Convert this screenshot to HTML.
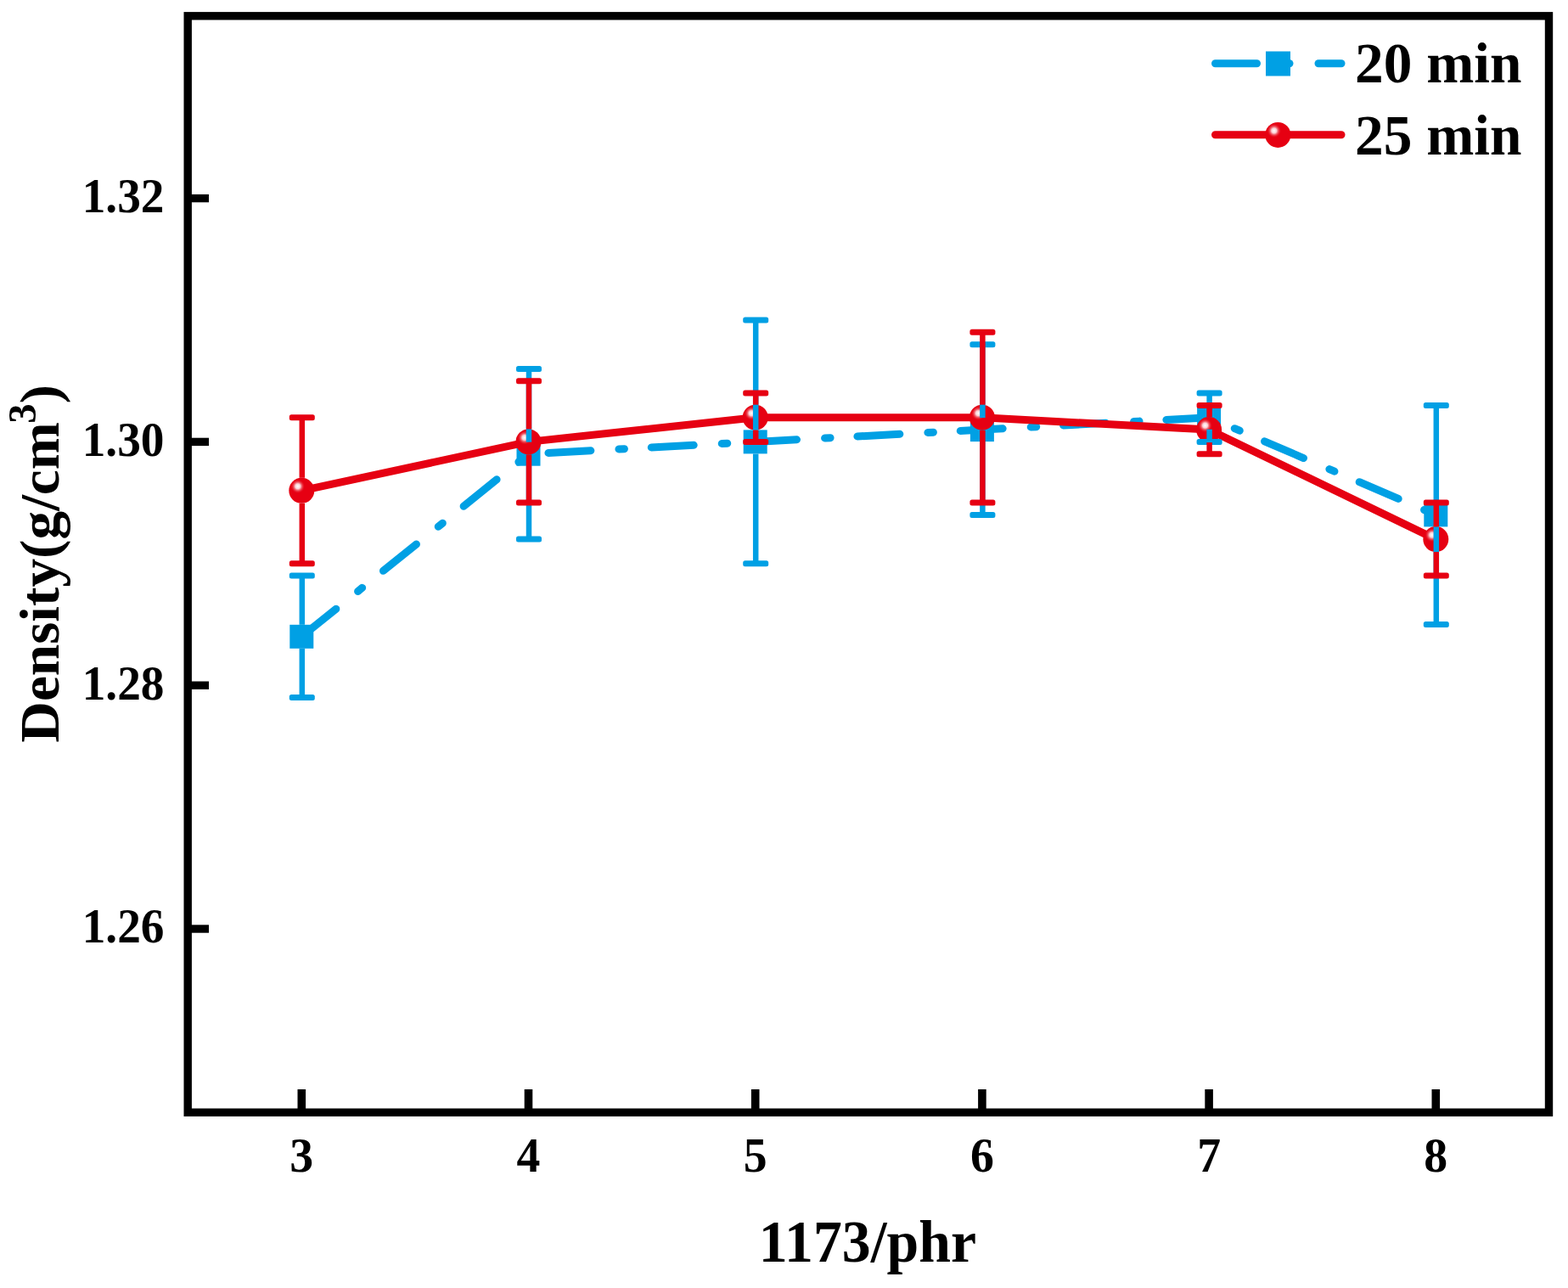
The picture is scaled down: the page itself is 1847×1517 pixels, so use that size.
<!DOCTYPE html><html><head><meta charset="utf-8"><style>html,body{margin:0;padding:0;background:#fff;}svg{display:block;}text{font-family:"Liberation Serif","Times New Roman",serif;font-weight:bold;fill:#000;}</style></head><body>
<svg width="1847" height="1517" viewBox="0 0 1847 1517">
<defs><radialGradient id="hl" cx="0.5" cy="0.5" r="0.5"><stop offset="0" stop-color="#fff"/><stop offset="0.35" stop-color="#fbd0d4"/><stop offset="1" stop-color="#E60012" stop-opacity="0"/></radialGradient></defs>
<rect width="1847" height="1517" fill="#fff"/>
<rect x="221.2" y="18.8" width="1603.3" height="1291.4" fill="none" stroke="#000" stroke-width="9.4"/>
<line x1="355.3" y1="1310" x2="355.3" y2="1283" stroke="#000" stroke-width="9.6"/>
<line x1="622.5" y1="1310" x2="622.5" y2="1283" stroke="#000" stroke-width="9.6"/>
<line x1="889.7" y1="1310" x2="889.7" y2="1283" stroke="#000" stroke-width="9.6"/>
<line x1="1156.9" y1="1310" x2="1156.9" y2="1283" stroke="#000" stroke-width="9.6"/>
<line x1="1424.1" y1="1310" x2="1424.1" y2="1283" stroke="#000" stroke-width="9.6"/>
<line x1="1691.3" y1="1310" x2="1691.3" y2="1283" stroke="#000" stroke-width="9.6"/>
<line x1="221" y1="1094.0" x2="246" y2="1094.0" stroke="#000" stroke-width="9.4"/>
<line x1="221" y1="807.2" x2="246" y2="807.2" stroke="#000" stroke-width="9.4"/>
<line x1="221" y1="520.4" x2="246" y2="520.4" stroke="#000" stroke-width="9.4"/>
<line x1="221" y1="233.6" x2="246" y2="233.6" stroke="#000" stroke-width="9.4"/>
<text x="355.3" y="1380" font-size="57.5" text-anchor="middle" transform="translate(355.3 0) scale(0.97 1) translate(-355.3 0)">3</text>
<text x="622.5" y="1380" font-size="57.5" text-anchor="middle" transform="translate(622.5 0) scale(0.97 1) translate(-622.5 0)">4</text>
<text x="889.7" y="1380" font-size="57.5" text-anchor="middle" transform="translate(889.7 0) scale(0.97 1) translate(-889.7 0)">5</text>
<text x="1156.9" y="1380" font-size="57.5" text-anchor="middle" transform="translate(1156.9 0) scale(0.97 1) translate(-1156.9 0)">6</text>
<text x="1424.1" y="1380" font-size="57.5" text-anchor="middle" transform="translate(1424.1 0) scale(0.97 1) translate(-1424.1 0)">7</text>
<text x="1691.3" y="1380" font-size="57.5" text-anchor="middle" transform="translate(1691.3 0) scale(0.97 1) translate(-1691.3 0)">8</text>
<text x="193.5" y="250.1" font-size="57.5" text-anchor="end" transform="translate(193.5 0) scale(0.962 1) translate(-193.5 0)">1.32</text>
<text x="193.5" y="536.9" font-size="57.5" text-anchor="end" transform="translate(193.5 0) scale(0.962 1) translate(-193.5 0)">1.30</text>
<text x="193.5" y="823.7" font-size="57.5" text-anchor="end" transform="translate(193.5 0) scale(0.962 1) translate(-193.5 0)">1.28</text>
<text x="193.5" y="1110.5" font-size="57.5" text-anchor="end" transform="translate(193.5 0) scale(0.962 1) translate(-193.5 0)">1.26</text>
<text x="1022" y="1486" font-size="69" text-anchor="middle" transform="translate(1022 0) scale(0.983 1) translate(-1022 0)">1173/phr</text>
<g transform="translate(69.2 874.7) scale(0.985 1) rotate(-90)"><text x="0" y="0" font-size="67.3">Density(g/cm<tspan font-size="46.5" dx="-1.5" dy="-27.8">3</tspan><tspan dy="27.8">)</tspan></text></g>
<polyline points="355.3,749.8 622.5,534.7 889.7,520.4 1156.9,506.1 1424.1,491.7 1691.3,606.4" fill="none" stroke="#00A0E4" stroke-width="9.0" stroke-linecap="round" stroke-linejoin="round" stroke-dasharray="50 33.1 6.5 31.9" stroke-dashoffset="119.5"/>
<rect x="341.3" y="735.8" width="28.0" height="28.0" fill="#00A0E4"/>
<rect x="608.5" y="520.7" width="28.0" height="28.0" fill="#00A0E4"/>
<rect x="875.7" y="506.4" width="28.0" height="28.0" fill="#00A0E4"/>
<rect x="1142.9" y="492.1" width="28.0" height="28.0" fill="#00A0E4"/>
<rect x="1410.1" y="477.7" width="28.0" height="28.0" fill="#00A0E4"/>
<rect x="1677.3" y="592.4" width="28.0" height="28.0" fill="#00A0E4"/>
<polyline points="355.3,577.8 622.5,520.4 889.7,491.7 1156.9,491.7 1424.1,506.1 1691.3,635.1" fill="none" stroke="#E60012" stroke-width="9.0" stroke-linecap="round" stroke-linejoin="round"/>
<circle cx="355.3" cy="577.8" r="15.0" fill="#E60012"/><circle cx="350.8" cy="572.8" r="8.5" fill="url(#hl)"/>
<circle cx="622.5" cy="520.4" r="15.0" fill="#E60012"/><circle cx="618.0" cy="515.4" r="8.5" fill="url(#hl)"/>
<circle cx="889.7" cy="491.7" r="15.0" fill="#E60012"/><circle cx="885.2" cy="486.7" r="8.5" fill="url(#hl)"/>
<circle cx="1156.9" cy="491.7" r="15.0" fill="#E60012"/><circle cx="1152.4" cy="486.7" r="8.5" fill="url(#hl)"/>
<circle cx="1424.1" cy="506.1" r="15.0" fill="#E60012"/><circle cx="1419.6" cy="501.1" r="8.5" fill="url(#hl)"/>
<circle cx="1691.3" cy="635.1" r="15.0" fill="#E60012"/><circle cx="1686.8" cy="630.1" r="8.5" fill="url(#hl)"/>
<line x1="355.8" y1="678.1" x2="355.8" y2="735.8" stroke="#00A0E4" stroke-width="6.5"/><line x1="355.8" y1="763.8" x2="355.8" y2="821.5" stroke="#00A0E4" stroke-width="6.5"/><rect x="340.8" y="674.6" width="30.0" height="7.0" rx="2.5" fill="#00A0E4"/><rect x="340.8" y="818.0" width="30.0" height="7.0" rx="2.5" fill="#00A0E4"/>
<line x1="623.0" y1="434.4" x2="623.0" y2="520.7" stroke="#00A0E4" stroke-width="6.5"/><line x1="623.0" y1="548.7" x2="623.0" y2="635.1" stroke="#00A0E4" stroke-width="6.5"/><rect x="608.0" y="430.9" width="30.0" height="7.0" rx="2.5" fill="#00A0E4"/><rect x="608.0" y="631.6" width="30.0" height="7.0" rx="2.5" fill="#00A0E4"/>
<line x1="890.2" y1="377.0" x2="890.2" y2="506.4" stroke="#00A0E4" stroke-width="6.5"/><line x1="890.2" y1="534.4" x2="890.2" y2="663.8" stroke="#00A0E4" stroke-width="6.5"/><rect x="875.2" y="373.5" width="30.0" height="7.0" rx="2.5" fill="#00A0E4"/><rect x="875.2" y="660.3" width="30.0" height="7.0" rx="2.5" fill="#00A0E4"/>
<line x1="1157.4" y1="405.7" x2="1157.4" y2="492.1" stroke="#00A0E4" stroke-width="6.5"/><line x1="1157.4" y1="520.1" x2="1157.4" y2="606.4" stroke="#00A0E4" stroke-width="6.5"/><rect x="1142.4" y="402.2" width="30.0" height="7.0" rx="2.5" fill="#00A0E4"/><rect x="1142.4" y="602.9" width="30.0" height="7.0" rx="2.5" fill="#00A0E4"/>
<line x1="1424.6" y1="463.0" x2="1424.6" y2="477.7" stroke="#00A0E4" stroke-width="6.5"/><line x1="1424.6" y1="505.7" x2="1424.6" y2="520.4" stroke="#00A0E4" stroke-width="6.5"/><rect x="1409.6" y="459.5" width="30.0" height="7.0" rx="2.5" fill="#00A0E4"/><rect x="1409.6" y="516.9" width="30.0" height="7.0" rx="2.5" fill="#00A0E4"/>
<line x1="1691.8" y1="477.4" x2="1691.8" y2="592.4" stroke="#00A0E4" stroke-width="6.5"/><line x1="1691.8" y1="620.4" x2="1691.8" y2="735.5" stroke="#00A0E4" stroke-width="6.5"/><rect x="1676.8" y="473.9" width="30.0" height="7.0" rx="2.5" fill="#00A0E4"/><rect x="1676.8" y="732.0" width="30.0" height="7.0" rx="2.5" fill="#00A0E4"/>
<line x1="355.8" y1="491.7" x2="355.8" y2="562.8" stroke="#E60012" stroke-width="6.5"/><line x1="355.8" y1="592.8" x2="355.8" y2="663.8" stroke="#E60012" stroke-width="6.5"/><rect x="340.8" y="488.2" width="30.0" height="7.0" rx="2.5" fill="#E60012"/><rect x="340.8" y="660.3" width="30.0" height="7.0" rx="2.5" fill="#E60012"/>
<line x1="623.0" y1="448.7" x2="623.0" y2="505.4" stroke="#E60012" stroke-width="6.5"/><line x1="623.0" y1="535.4" x2="623.0" y2="592.1" stroke="#E60012" stroke-width="6.5"/><rect x="608.0" y="445.2" width="30.0" height="7.0" rx="2.5" fill="#E60012"/><rect x="608.0" y="588.6" width="30.0" height="7.0" rx="2.5" fill="#E60012"/>
<line x1="890.2" y1="463.0" x2="890.2" y2="476.7" stroke="#E60012" stroke-width="6.5"/><line x1="890.2" y1="506.7" x2="890.2" y2="520.4" stroke="#E60012" stroke-width="6.5"/><rect x="875.2" y="459.5" width="30.0" height="7.0" rx="2.5" fill="#E60012"/><rect x="875.2" y="516.9" width="30.0" height="7.0" rx="2.5" fill="#E60012"/>
<line x1="1157.4" y1="391.3" x2="1157.4" y2="476.7" stroke="#E60012" stroke-width="6.5"/><line x1="1157.4" y1="506.7" x2="1157.4" y2="592.1" stroke="#E60012" stroke-width="6.5"/><rect x="1142.4" y="387.8" width="30.0" height="7.0" rx="2.5" fill="#E60012"/><rect x="1142.4" y="588.6" width="30.0" height="7.0" rx="2.5" fill="#E60012"/>
<line x1="1424.6" y1="477.4" x2="1424.6" y2="491.1" stroke="#E60012" stroke-width="6.5"/><line x1="1424.6" y1="521.1" x2="1424.6" y2="534.7" stroke="#E60012" stroke-width="6.5"/><rect x="1409.6" y="473.9" width="30.0" height="7.0" rx="2.5" fill="#E60012"/><rect x="1409.6" y="531.2" width="30.0" height="7.0" rx="2.5" fill="#E60012"/>
<line x1="1691.8" y1="592.1" x2="1691.8" y2="620.1" stroke="#E60012" stroke-width="6.5"/><line x1="1691.8" y1="650.1" x2="1691.8" y2="678.1" stroke="#E60012" stroke-width="6.5"/><rect x="1676.8" y="588.6" width="30.0" height="7.0" rx="2.5" fill="#E60012"/><rect x="1676.8" y="674.6" width="30.0" height="7.0" rx="2.5" fill="#E60012"/>
<line x1="1431.5" y1="74.8" x2="1480.5" y2="74.8" stroke="#00A0E4" stroke-width="9.0" stroke-linecap="round"/>
<line x1="1505" y1="74.8" x2="1519" y2="74.8" stroke="#00A0E4" stroke-width="9.0" stroke-linecap="round"/>
<line x1="1553" y1="74.8" x2="1580" y2="74.8" stroke="#00A0E4" stroke-width="9.0" stroke-linecap="round"/>
<rect x="1491.0" y="60.5" width="29" height="29" fill="#00A0E4"/>
<line x1="1431.5" y1="158.8" x2="1580" y2="158.8" stroke="#E60012" stroke-width="9.0" stroke-linecap="round"/>
<circle cx="1505.3" cy="158.9" r="15.0" fill="#E60012"/><circle cx="1500.8" cy="153.9" r="8.5" fill="url(#hl)"/>
<text x="1596" y="97.4" font-size="68.5" transform="translate(1596 0) scale(0.983 1) translate(-1596 0)">20 min</text>
<text x="1596" y="181.9" font-size="68.5" transform="translate(1596 0) scale(0.983 1) translate(-1596 0)">25 min</text>
</svg></body></html>
